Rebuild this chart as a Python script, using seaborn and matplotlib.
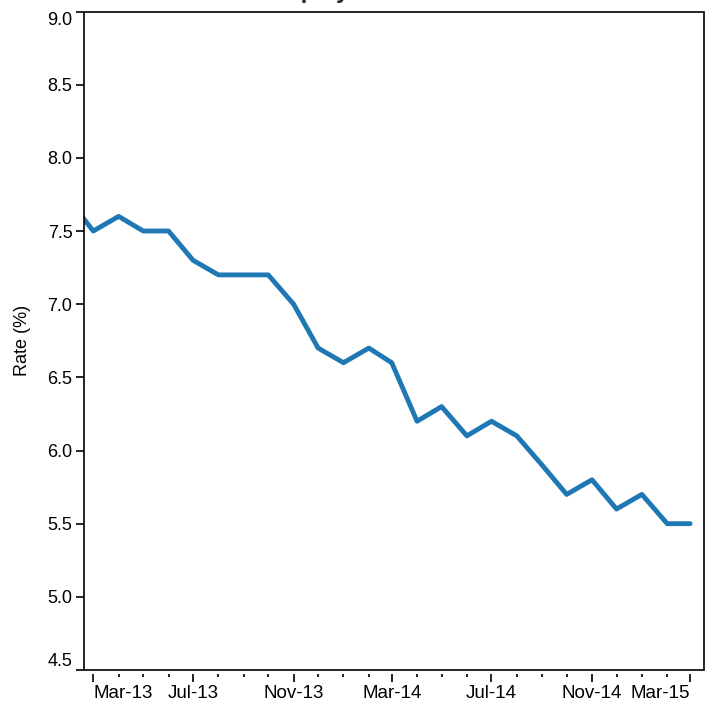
import numpy as np
import pandas as pd
import matplotlib.pyplot as plt
import matplotlib.dates as mdates
import matplotlib.ticker as mticker
import matplotlib.patches as mpatches
import seaborn as sns

# monthly US unemployment rate, Feb-13 .. Mar-15 (first point sits left of the axis)
months = pd.date_range('2013-02-01', '2015-03-01', freq='MS')
rate = [7.7, 7.5, 7.6, 7.5, 7.5, 7.3, 7.2, 7.2, 7.2, 7.0, 6.7,
        6.6, 6.7, 6.6, 6.2, 6.3, 6.1, 6.2, 6.1, 5.9, 5.7, 5.8, 5.6,
        5.7, 5.5, 5.5]
x_labels = ['Mar-13', 'Jul-13', 'Nov-13', 'Mar-14', 'Jul-14', 'Nov-14', 'Mar-15']
y_ticks = [4.5, 5.0, 5.5, 6.0, 6.5, 7.0, 7.5, 8.0, 8.5, 9.0]

df = pd.DataFrame({'month': months, 'rate': rate})

sns.set_style('ticks')
plt.rcParams['font.family'] = ['Liberation Sans', 'DejaVu Sans']

W, H = 717, 702
fig = plt.figure(figsize=(W / 100, H / 100), dpi=100)
ax = fig.add_axes([83.5 / W, 1 - 670 / H, (704 - 83.5) / W, (670 - 11.5) / H])

sns.lineplot(data=df, x='month', y='rate', ax=ax, color='#1f77b4', linewidth=3.5)

ax.set_xlim(pd.Timestamp('2013-02-17'), pd.Timestamp('2015-03-18'))
ax.set_ylim(4.5, 9.0)

# y axis
ax.yaxis.set_major_locator(mticker.FixedLocator(y_ticks))
ax.yaxis.set_major_formatter(mticker.FixedFormatter([f'{v:.1f}' for v in y_ticks]))
ax.tick_params(axis='y', direction='out', length=6, width=1.2, pad=2,
               labelsize=13, colors='black')
ax.set_ylabel('Rate (%)', fontsize=13, labelpad=12, color='black')
ax.set_xlabel('')

# x axis: major every 4 months, minor monthly, ticks sit a little below the frame
x_pos = mdates.date2num(pd.to_datetime(x_labels, format='%b-%y'))
ax.xaxis.set_major_locator(mticker.FixedLocator(x_pos))
ax.xaxis.set_major_formatter(mticker.FixedFormatter(x_labels))
ax.xaxis.set_minor_locator(mticker.FixedLocator(mdates.date2num(months[1:])))
ax.tick_params(axis='x', which='major', direction='out', length=6, width=1.2,
               pad=1.5, labelsize=13.5, colors='black')
ax.tick_params(axis='x', which='minor', direction='out', length=2, width=1.2,
               colors='black')

# frame drawn as one box; spines hidden (bottom one only moves the ticks down)
for s in ['top', 'right', 'left', 'bottom']:
    ax.spines[s].set_visible(False)
ax.spines['bottom'].set_position(('outward', 3))
ax.add_patch(mpatches.Rectangle((0, 0), 1, 1, transform=ax.transAxes, fill=False,
                                edgecolor='black', linewidth=1.2, clip_on=False,
                                zorder=3))

fig.canvas.draw()
# end labels kept flush inside the frame
xlabs = ax.get_xticklabels()
xlabs[0].set_ha('left')
xlabs[-1].set_ha('right')
ylabs = ax.get_yticklabels()
ylabs[0].set_va('bottom')
ylabs[-1].set_va('top')

# title mostly cut off at the top edge, only descenders show
fig.text(235 / W, 1 + 2 / H, 'Unemployment Rate', ha='left', va='baseline',
         fontsize=17, fontweight='bold')

fig.savefig('out.png', dpi=100)
